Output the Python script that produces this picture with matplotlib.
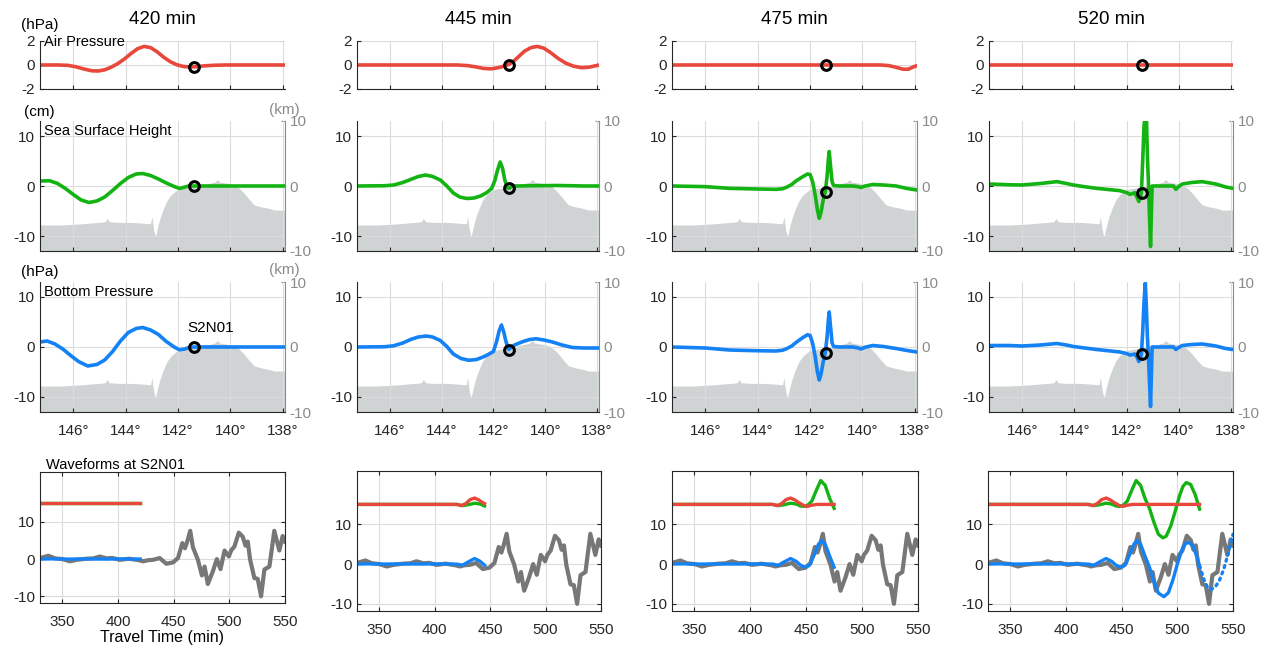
import numpy as np
import matplotlib
matplotlib.use("Agg")
import matplotlib.pyplot as plt

plt.rcParams["font.family"] = ["Liberation Sans", "DejaVu Sans"]
plt.rcParams["axes.unicode_minus"] = False

# ============================================================
# Data
# ============================================================
TIMES = [420, 445, 475, 520]
STATION = "S2N01"
STATION_LON = 141.4

# value at the station marker for each snapshot
station_air = [-0.15, 0.0, 0.0, 0.0]
station_ssh = [0.0, -0.47, -1.1, -1.3]
station_bp = [0.0, -0.5, -1.1, -1.4]

lon_ticks = [146, 144, 142, 140, 138]
time_ticks = [350, 400, 450, 500, 550]

# bathymetry along the profile (km)
topo_lon = [147.27, 146.5, 146.0, 145.6, 145.35, 145.0, 144.78, 144.71, 144.62, 144.3,
            143.8, 143.4, 143.15, 143.05, 143.0, 142.96, 142.92, 142.86, 142.78, 142.67,
            142.55, 142.42, 142.25, 142.03, 141.8, 141.5, 141.14, 140.8, 140.6, 140.5,
            140.4, 140.1, 139.86, 139.65, 139.48, 139.3, 139.1, 138.85, 138.58, 138.33, 137.92]
topo_km = [-6.0, -6.0, -5.9, -5.8, -5.7, -5.6, -5.5, -5.0, -5.5, -5.6,
           -5.6, -5.7, -5.8, -5.8, -4.7, -6.0, -7.0, -7.8, -6.3, -4.7,
           -3.4, -2.2, -1.3, -0.6, -0.4, -0.2, 0.15, 0.4, 0.6, 1.0,
           0.6, 0.4, 0.2, -0.4, -1.1, -2.0, -2.9, -3.2, -3.4, -3.7, -3.7]

# ---- air pressure profiles (hPa)
air_lon_420 = [147.27, 146.6, 146.2, 145.9, 145.6, 145.3, 145.05, 144.8, 144.55, 144.3,
               144.05, 143.8, 143.55, 143.3, 143.05, 142.8, 142.55, 142.3, 142.05, 141.8,
               141.55, 141.3, 141.0, 140.6, 140.2, 137.92]
air_420 = [0, 0, -0.03, -0.15, -0.33, -0.48, -0.5, -0.4, -0.18, 0.12,
           0.5, 0.95, 1.35, 1.55, 1.45, 1.1, 0.65, 0.28, 0.02, -0.12,
           -0.17, -0.14, -0.07, -0.02, 0, 0]
air_lon_445 = [147.27, 143.4, 143.0, 142.7, 142.4, 142.1, 141.8, 141.6, 141.4, 141.2,
               141.0, 140.8, 140.55, 140.3, 140.05, 139.8, 139.5, 139.2, 138.9, 138.6,
               138.3, 137.92]
air_445 = [0, 0, -0.05, -0.15, -0.28, -0.32, -0.22, -0.1, 0.05, 0.35,
           0.75, 1.15, 1.45, 1.55, 1.4, 1.05, 0.55, 0.15, -0.1, -0.22,
           -0.18, 0.0]
air_lon_475 = [147.27, 139.3, 139.0, 138.7, 138.45, 138.25, 138.05, 137.92]
air_475 = [0, 0, -0.05, -0.2, -0.35, -0.35, -0.15, -0.05]
air_lon_520 = [147.27, 137.92]
air_520 = [0, 0]

# ---- sea surface height profiles (cm)
ssh_lon_420 = [147.27, 146.9, 146.6, 146.3, 146.0, 145.7, 145.4, 145.1, 144.8, 144.5,
               144.2, 143.9, 143.6, 143.35, 143.05, 142.75, 142.45, 142.15, 141.95, 141.8,
               141.6, 141.38, 137.92]
ssh_420 = [1.0, 1.05, 0.5, -0.5, -1.7, -2.8, -3.3, -3.0, -2.2, -0.9,
           0.5, 1.7, 2.4, 2.5, 2.1, 1.4, 0.6, -0.1, -0.5, -0.3,
           0.0, 0.0, 0.0]
ssh_lon_445 = [147.27, 146.2, 145.85, 145.5, 145.2, 144.9, 144.62, 144.35, 144.05, 143.8,
               143.55, 143.3, 143.03, 142.75, 142.5, 142.25, 142.07, 141.95, 141.85, 141.74,
               141.65, 141.56, 141.47, 141.4, 141.3, 141.18, 140.5, 139.5, 138.5, 137.92]
ssh_445 = [0.0, 0.05, 0.2, 0.7, 1.3, 1.9, 2.2, 1.9, 1.2, 0.0,
           -1.4, -2.2, -2.5, -2.4, -2.0, -1.3, -0.5, 1.0, 3.0, 4.8,
           3.6, 1.2, -0.2, -0.47, -0.1, 0.0, 0.05, 0.1, 0.0, 0.0]
ssh_lon_475 = [147.27, 146.0, 145.08, 144.0, 143.3, 143.05, 142.9, 142.7, 142.54, 142.3,
               142.1, 142.0, 141.9, 141.8, 141.72, 141.65, 141.58, 141.5, 141.42, 141.35,
               141.3, 141.27, 141.22, 141.16, 141.1, 140.89, 140.38, 140.2, 140.06, 139.9,
               139.61, 139.2, 138.72, 138.3, 137.92]
ssh_475 = [0.0, -0.13, -0.47, -0.6, -0.67, -0.55, -0.25, 0.3, 1.0, 1.8,
           2.4, 2.3, 0.8, -2.0, -4.8, -6.47, -5.2, -2.8, -1.1, 2.0,
           5.5, 6.9, 4.0, 0.8, 0.1, 0.0, 0.0, -0.1, -0.3, 0.0,
           0.3, 0.2, 0.0, -0.5, -0.8]
ssh_lon_520 = [147.27, 146.5, 146.0, 145.3, 144.67, 144.3, 144.04, 143.6, 143.15, 142.7,
               142.26, 142.0, 141.88, 141.75, 141.69, 141.6, 141.53, 141.46, 141.43, 141.38,
               141.33, 141.28, 141.24, 141.2, 141.16, 141.12, 141.08, 141.05, 141.02, 140.6,
               140.2, 140.11, 140.0, 139.86, 139.5, 139.1, 138.58, 138.2, 137.92]
ssh_520 = [0.4, 0.25, 0.2, 0.5, 0.87, 0.5, 0.2, -0.15, -0.47, -0.7,
           -0.93, -1.3, -1.67, -1.5, -1.33, -2.2, -3.1, -2.2, -1.3, 5.0,
           12.0, 14.5, 14.5, 6.0, 0.5, -6.0, -12.1, -6.0, 0.0, 0.0,
           0.0, -0.67, -0.1, 0.4, 0.7, 0.87, 0.4, -0.2, -0.47]

# ---- bottom pressure profiles (hPa)
bp_lon_420 = [147.27, 147.0, 146.7, 146.4, 146.1, 145.8, 145.45, 145.1, 144.8, 144.5,
              144.2, 143.9, 143.6, 143.35, 143.05, 142.75, 142.45, 142.15, 141.95, 141.75,
              141.55, 141.38, 137.92]
bp_420 = [1.0, 1.2, 0.6, -0.4, -1.7, -2.9, -3.8, -3.5, -2.6, -0.9,
          1.2, 2.9, 3.7, 3.9, 3.4, 2.5, 1.1, 0.0, -0.55, -0.4,
          -0.05, 0.0, 0.0]
bp_lon_445 = [147.27, 146.2, 145.85, 145.5, 145.2, 144.9, 144.6, 144.35, 144.05, 143.8,
              143.55, 143.25, 142.95, 142.65, 142.4, 142.2, 142.0, 141.88, 141.78, 141.69,
              141.6, 141.52, 141.45, 141.4, 141.3, 141.12, 140.85, 140.6, 140.35, 140.05,
              139.72, 139.35, 138.95, 138.5, 137.92]
bp_445 = [0.0, 0.05, 0.25, 0.8, 1.5, 2.0, 2.2, 2.0, 1.3, 0.1,
          -1.4, -2.3, -2.65, -2.5, -2.0, -1.5, -0.9, 1.0, 3.2, 4.4,
          3.0, 1.2, 0.0, -0.5, 0.1, 0.55, 1.1, 1.5, 1.65, 1.4,
          1.0, 0.4, -0.1, -0.2, -0.2]
bp_lon_475 = ssh_lon_475
bp_475 = [0.0, -0.2, -0.6, -0.75, -0.8, -0.65, -0.35, 0.2, 0.9, 1.8,
          2.45, 2.3, 0.7, -2.1, -5.0, -6.6, -5.3, -3.0, -1.1, 2.1,
          5.6, 7.0, 4.1, 0.8, 0.1, 0.0, 0.0, -0.15, -0.4, -0.05,
          0.3, 0.1, -0.3, -0.7, -1.0]
bp_lon_520 = ssh_lon_520
bp_520 = [0.3, 0.3, 0.2, 0.4, 0.7, 0.4, 0.1, -0.2, -0.5, -0.75,
          -1.0, -1.3, -1.6, -1.5, -1.4, -2.0, -2.9, -2.2, -1.4, 3.0,
          9.0, 12.8, 8.0, 2.0, -2.0, -7.0, -11.9, -6.0, 0.0, 0.0,
          0.0, -0.5, -0.1, 0.3, 0.5, 0.6, 0.2, -0.3, -0.5]

# ---- waveforms at the station (travel time in min)
WAVE_OFFSET = 15  # air pressure and sea surface height are shifted up
obs_t = [330, 337.5, 343.4, 350, 356.9, 362.8, 371.8, 378, 383.7, 389.7,
         395, 401.6, 410, 419.6, 422.5, 427, 431.5, 437.5, 443.4, 449.4,
         453.9, 457.8, 460.2, 462.2, 464.9, 467.3, 471.8, 475.4, 477.8, 480.7,
         485.2, 488.8, 492.1, 495.7, 499.6, 501.6, 504.6, 508.5, 512.1, 514.5,
         516.6, 518.7, 522.5, 525.5, 528.5, 531.5, 536, 540.4, 544.9, 547.9, 550]
obs_cm = [0.27, 0.9, 0.2, 0.0, -0.6, -0.2, 0.1, 0.2, 0.7, 0.2,
          0.3, -0.2, 0.1, -0.35, -0.6, -0.3, -0.2, 0.27, -1.25, -0.9,
          0.27, 4.3, 2.9, 4.7, 7.6, 3.2, -0.2, -4.4, -2.0, -6.7,
          -3.3, 0.0, -2.7, 2.3, 0.7, 2.3, 3.4, 7.1, 6.0, 3.6,
          4.7, -0.2, -5.1, -5.3, -10.0, -2.8, -2.0, 7.6, 2.3, 6.2, 4.7]
air_t = [330, 400, 415, 420, 424, 428, 432, 436, 440, 443, 445, 448, 451, 455, 460, 475, 490, 505, 520]
air_wave = [0, 0, 0, 0, -0.3, 0.2, 1.2, 1.6, 1.1, 0.5, 0.2, -0.3, -0.5, -0.2, 0, 0, 0, 0, 0]
ssh_t = [330, 400, 415, 420, 425, 430, 436, 441, 445, 448, 451, 455, 459, 463, 467, 471, 475,
         479, 483, 487, 490, 494, 498, 502, 505, 508, 512, 516, 520]
ssh_wave = [0, 0, 0, 0, -0.3, -0.1, 0.3, 0.1, -0.4, -0.5, -0.3, 0.8, 3.5, 6.0, 4.8, 1.5, -1.0,
            -4.5, -7.5, -8.4, -8.0, -5.5, -1.8, 2.2, 4.5, 5.5, 5.0, 2.5, -1.2]
bp_t = [330, 340, 355, 370, 385, 400, 415, 420, 425, 430, 436, 441, 445, 449, 453, 457, 461,
        464, 467, 471, 475, 479, 483, 488, 492, 496, 500, 504, 507, 510, 514, 518, 520]
bp_wave = [0, 0.05, 0, 0.05, 0, 0.05, 0, 0, -0.3, 0.5, 1.4, 0.7, -0.3, -0.8, -0.3, 2.2, 5.0,
           5.9, 5.0, 2.0, -0.8, -4.5, -7.3, -8.2, -7.2, -4.0, 0.0, 3.5, 5.0, 5.5, 4.6, 1.5, -0.5]
bp_pred_t = [520, 524, 527, 530, 534, 538, 542, 546, 550]
bp_pred = [-0.5, -4.0, -5.8, -6.4, -5.8, -4.0, -1.0, 3.0, 7.5]

air_lons = [air_lon_420, air_lon_445, air_lon_475, air_lon_520]
air_vals = [air_420, air_445, air_475, air_520]
ssh_lons = [ssh_lon_420, ssh_lon_445, ssh_lon_475, ssh_lon_520]
ssh_vals = [ssh_420, ssh_445, ssh_475, ssh_520]
bp_lons = [bp_lon_420, bp_lon_445, bp_lon_475, bp_lon_520]
bp_vals = [bp_420, bp_445, bp_475, bp_520]

# ============================================================
# Style / layout (pixels of a 1266 x 649 canvas)
# ============================================================
W, H = 1266, 649
RED = "#e8483b"
GREEN = "#14b314"
BLUE = "#1482f4"
OBS_GRAY = "#777777"
TOPO_GRAY = "#cfd3d3"
GRID = "#dcdcdc"
AX_COLOR = "#262626"
KM_COLOR = "#8a8a8a"
XPAD = 8.5

MAP_COLS = [(40, 285), (357, 599), (672, 917), (989, 1233)]
ROW_AIR = (41, 89)
ROW_SSH = (121, 251)
ROW_BP = (282, 412)
WAVE_BOXES = [(40, 472, 285, 603), (357, 471, 601, 611), (672, 471, 918, 611), (988, 471, 1233, 611)]
LON_LIM = (147.27, 137.92)
WAVE_XLIM = (330, 550)
WAVE_YLIM = (-11.8, 23.4)

fig = plt.figure(figsize=(W / 100, H / 100), dpi=100)


def add_px_axes(left, top, right, bottom):
    return fig.add_axes([left / W, 1 - bottom / H, (right - left) / W, (bottom - top) / H])


def px_text(x, y, s, **kw):
    return fig.text(x / W, 1 - y / H, s, **kw)


def map_panel(left, right, row, ylim, yticks, topo, xlabels):
    ax = add_px_axes(left, row[0], right, row[1])
    if topo:
        axr = ax.twinx()
        axr.fill_between(topo_lon, topo_km, -10, color=TOPO_GRAY, linewidth=0)
        axr.set_ylim(-10, 10)
        axr.set_yticks([-10, 0, 10])
        axr.tick_params(direction="in", length=3, labelsize=11, colors=KM_COLOR)
        for s in ["top", "left", "bottom"]:
            axr.spines[s].set_visible(False)
        axr.spines["right"].set_color(KM_COLOR)
        ax.set_zorder(axr.get_zorder() + 1)
        ax.patch.set_visible(False)
    ax.set_xlim(*LON_LIM)
    ax.set_ylim(*ylim)
    ax.set_yticks(yticks)
    ax.set_xticks(lon_ticks)
    if xlabels:
        ax.set_xticklabels([f"{v}\u00b0" for v in lon_ticks])
    else:
        ax.set_xticklabels([])
    ax.tick_params(direction="in", length=3, labelsize=11, colors=AX_COLOR, right=False)
    ax.tick_params(axis="x", pad=XPAD)
    ax.grid(True, color=GRID, linewidth=0.8)
    ax.set_axisbelow(True)
    ax.spines["top"].set_visible(False)
    ax.spines["right"].set_visible(False)
    for s in ["left", "bottom"]:
        ax.spines[s].set_color(AX_COLOR)
    return ax


def wave_panel(box, t_end):
    ax = add_px_axes(*box)
    ax.plot(obs_t, obs_cm, color=OBS_GRAY, lw=3)
    t = np.asarray(bp_t)
    m = t <= t_end
    ax.plot(t[m], np.asarray(bp_wave)[m], color=BLUE, lw=2.4)
    if t_end >= bp_pred_t[0]:
        ax.plot(bp_pred_t, bp_pred, color=BLUE, lw=2.4,
                linestyle=(0, (0.6, 1.4)), dash_capstyle="round")
    t = np.asarray(ssh_t)
    m = t <= t_end
    ax.plot(t[m], np.asarray(ssh_wave)[m] + WAVE_OFFSET, color=GREEN, lw=2.4)
    t = np.asarray(air_t)
    m = t <= t_end
    ax.plot(t[m], np.asarray(air_wave)[m] + WAVE_OFFSET, color=RED, lw=2.4)
    ax.set_xlim(*WAVE_XLIM)
    ax.set_ylim(*WAVE_YLIM)
    ax.set_xticks(time_ticks)
    ax.set_yticks([-10, 0, 10])
    ax.tick_params(direction="in", length=3, labelsize=11, colors=AX_COLOR, top=True, right=True)
    ax.tick_params(axis="x", pad=XPAD)
    ax.grid(True, color=GRID, linewidth=0.8)
    ax.set_axisbelow(True)
    for s in ax.spines.values():
        s.set_color(AX_COLOR)
    return ax


# ============================================================
# Figure
# ============================================================
marker_kw = dict(marker="o", mfc="none", mec="black", ms=7, mew=2.2, clip_on=False, zorder=5)

for i, t_now in enumerate(TIMES):
    left, right = MAP_COLS[i]

    ax = map_panel(left, right, ROW_AIR, (-2, 2), [-2, 0, 2], False, False)
    ax.plot(air_lons[i], air_vals[i], color=RED, lw=2.6)
    ax.plot([STATION_LON], [station_air[i]], **marker_kw)

    ax = map_panel(left, right, ROW_SSH, (-13, 13), [-10, 0, 10], True, False)
    ax.plot(ssh_lons[i], ssh_vals[i], color=GREEN, lw=2.6)
    ax.plot([STATION_LON], [station_ssh[i]], **marker_kw)

    ax = map_panel(left, right, ROW_BP, (-13, 13), [-10, 0, 10], True, True)
    ax.plot(bp_lons[i], bp_vals[i], color=BLUE, lw=2.6)
    ax.plot([STATION_LON], [station_bp[i]], **marker_kw)
    if i == 0:
        ax.text(141.65, 3.7, STATION, fontsize=11, ha="left", va="center", color="black")

    wax = wave_panel(WAVE_BOXES[i], t_now)
    if i == 0:
        wax.set_xlabel("Travel Time (min)", fontsize=11.5, labelpad=1)

    px_text((left + right) / 2, 20, f"{t_now} min", ha="center", va="center", fontsize=13.5)

# labels that only appear in the first column
px_text(40, 25, "(hPa)", ha="center", va="center", fontsize=11)
px_text(39, 112, "(cm)", ha="center", va="center", fontsize=11)
px_text(40, 272, "(hPa)", ha="center", va="center", fontsize=11)
px_text(284, 110, "(km)", ha="center", va="center", fontsize=11, color=KM_COLOR)
px_text(284, 270, "(km)", ha="center", va="center", fontsize=11, color=KM_COLOR)
px_text(44, 41.5, "Air Pressure", ha="left", va="center", fontsize=10.5)
px_text(44, 131.5, "Sea Surface Height", ha="left", va="center", fontsize=10.5)
px_text(44, 292.5, "Bottom Pressure", ha="left", va="center", fontsize=10.5)
px_text(46, 465, f"Waveforms at {STATION}", ha="left", va="center", fontsize=10.5)

fig.savefig("out.png", dpi=100, facecolor="white")
